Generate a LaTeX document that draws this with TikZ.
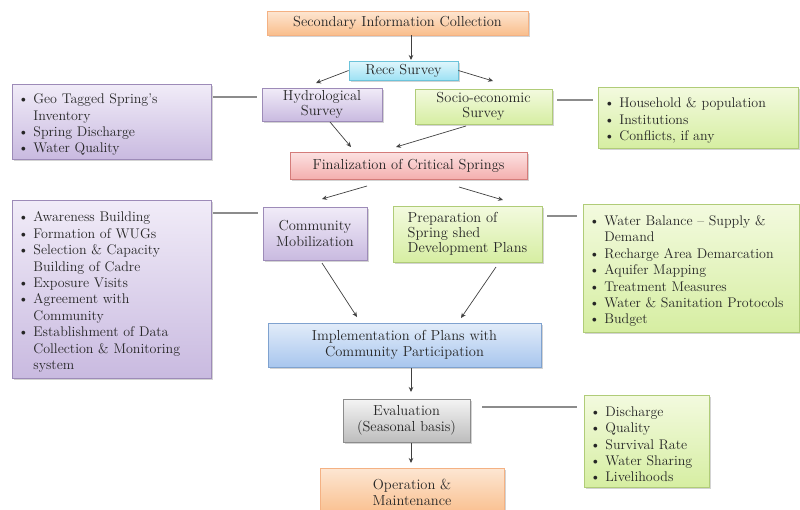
\documentclass[tikz,border=0pt]{standalone}
\usetikzlibrary{shadows,arrows.meta}
\definecolor{oBd}{HTML}{F4B183}\definecolor{oT}{HTML}{FDE6D2}\definecolor{oB}{HTML}{F9BE8C}
\definecolor{cBd}{HTML}{6CC3DA}\definecolor{cT}{HTML}{E0F6FC}\definecolor{cB}{HTML}{9EE2F4}
\definecolor{pBd}{HTML}{9D8BB8}\definecolor{pT}{HTML}{F1ECF8}\definecolor{pB}{HTML}{C9BAE0}
\definecolor{gBd}{HTML}{B0CC78}\definecolor{gT}{HTML}{F3FADF}\definecolor{gB}{HTML}{D6EEA2}
\definecolor{rBd}{HTML}{D47C7A}\definecolor{rT}{HTML}{FCE2E2}\definecolor{rB}{HTML}{F4AFAE}
\definecolor{bBd}{HTML}{7FA2CF}\definecolor{bT}{HTML}{E2ECF9}\definecolor{bB}{HTML}{A8C6EE}
\definecolor{kBd}{HTML}{8C8C8C}\definecolor{kT}{HTML}{F4F4F4}\definecolor{kB}{HTML}{BDBDBD}
\definecolor{txt}{HTML}{262626}
\hyphenpenalty=10000
\exhyphenpenalty=10000
\newcommand\bitem[1]{\par\noindent\hangindent=1.1em\hangafter=1\makebox[1.1em][l]{\textbullet}#1\par}
\tikzset{
  box/.style={draw, line width=0.8pt, inner sep=2pt, align=center, text=txt,
    drop shadow={shadow xshift=1.6pt, shadow yshift=-1.6pt, opacity=0.35},
    font=\fontsize{14.5}{16}\selectfont},
  orangebox/.style={box, draw=oBd, top color=oT, bottom color=oB},
  cyanbox/.style={box, draw=cBd, top color=cT, bottom color=cB},
  purplebox/.style={box, draw=pBd, top color=pT, bottom color=pB},
  greenbox/.style={box, draw=gBd, top color=gT, bottom color=gB},
  redbox/.style={box, draw=rBd, top color=rT, bottom color=rB},
  bluebox/.style={box, draw=bBd, top color=bT, bottom color=bB},
  graybox/.style={box, draw=kBd, top color=kT, bottom color=kB},
  listbox/.style={align=left, inner xsep=6pt, font=\fontsize{14}{16.4}\selectfont},
  conn/.style={draw=black!75, line width=0.7pt, -{Stealth[length=5pt,width=4.5pt]}},
  link/.style={draw=black!45, line width=1.4pt}
}
\begin{document}
\begin{tikzpicture}[x=1pt,y=-1pt]
\useasboundingbox (0,0) rectangle (800,509);
% main flow
\node[orangebox, minimum width=261pt, minimum height=24pt] (sec) at (397.5,23) {Secondary Information Collection};
\node[cyanbox, minimum width=109pt, minimum height=19pt] (rece) at (403.5,70.5) {Rece Survey};
\node[purplebox, minimum width=120pt, minimum height=33pt, font=\fontsize{14.5}{15}\selectfont] (hyd) at (322,104.5) {Hydrological\\Survey};
\node[greenbox, minimum width=137pt, minimum height=35pt, font=\fontsize{14.5}{15}\selectfont] (soc) at (483.5,106.5) {Socio-economic\\Survey};
\node[redbox, minimum width=237pt, minimum height=27pt] (fin) at (408.5,165.5) {Finalization of Critical Springs};
\node[purplebox, minimum width=104pt, minimum height=53pt] (com) at (315,233.5) {Community\\Mobilization};
\node[greenbox, minimum width=149pt, minimum height=56pt, align=left, font=\fontsize{14.5}{15}\selectfont] (prep) at (467.5,234) {Preparation of\\Spring shed\\Development Plans};
\node[bluebox, minimum width=273pt, minimum height=44pt] (imp) at (404.5,345) {Implementation of Plans with\\Community Participation};
\node[graybox, minimum width=127pt, minimum height=43pt] (eva) at (406.5,420.5) {Evaluation\\(Seasonal basis)};
\node[orangebox, minimum width=184pt, minimum height=47pt, anchor=north] (op) at (412,468) {Operation \&\\Maintenance};
% side lists
\node[purplebox, listbox, minimum width=199pt, minimum height=75pt, text width=187pt] (l1) at (111.5,121.5)
 {\bitem{Geo Tagged Spring's\newline Inventory}\bitem{Spring Discharge}\bitem{Water Quality}};
\node[greenbox, listbox, minimum width=200pt, minimum height=61pt, text width=188pt] (r1) at (698,117.5)
 {\bitem{Household \& population}\bitem{Institutions}\bitem{Conflicts, if any}};
\node[purplebox, listbox, minimum width=199pt, minimum height=178pt, text width=187pt] (l2) at (111.5,289)
 {\bitem{Awareness Building}\bitem{Formation of WUGs}\bitem{Selection \& Capacity\newline Building of Cadre}\bitem{Exposure Visits}\bitem{Agreement with\newline Community}\bitem{Establishment of Data\newline Collection \& Monitoring\newline system}};
\node[greenbox, listbox, minimum width=216pt, minimum height=128pt, text width=204pt] (r2) at (691,268)
 {\bitem{Water Balance -- Supply \&\newline Demand}\bitem{Recharge Area Demarcation}\bitem{Aquifer Mapping}\bitem{Treatment Measures}\bitem{Water \& Sanitation Protocols}\bitem{Budget}};
\node[greenbox, listbox, minimum width=125pt, minimum height=92pt, text width=113pt] (r3) at (646.5,441)
 {\bitem{Discharge}\bitem{Quality}\bitem{Survival Rate}\bitem{Water Sharing}\bitem{Livelihoods}};
% arrow end points
\coordinate (s1) at (411,35.4);   \coordinate (e1) at (411,60);
\coordinate (e2) at (316,83);     \coordinate (e3) at (493,81);
\coordinate (s4) at (330,122);    \coordinate (e4) at (351,147);
\coordinate (s5) at (466,126);    \coordinate (e5) at (396,147);
\coordinate (s6) at (367,186);    \coordinate (e6) at (322,199);
\coordinate (s7) at (459,187);    \coordinate (e7) at (503,200);
\coordinate (s8) at (322,263);    \coordinate (e8) at (357,317);
\coordinate (s9) at (496,267);    \coordinate (e9) at (461,318);
\coordinate (s10) at (411,368);   \coordinate (e10) at (411,392);
\coordinate (s11) at (411,443);   \coordinate (e11) at (411,463);
\draw[conn] (s1) -- (e1);
\draw[conn] (rece.west) -- (e2);
\draw[conn] (rece.east) -- (e3);
\draw[conn] (s4) -- (e4);
\draw[conn] (s5) -- (e5);
\draw[conn] (s6) -- (e6);
\draw[conn] (s7) -- (e7);
\draw[conn] (s8) -- (e8);
\draw[conn] (s9) -- (e9);
\draw[conn] (s10) -- (e10);
\draw[conn] (s11) -- (e11);
% side links
\coordinate (k1) at (257,97);  \coordinate (k2) at (557,100);
\coordinate (k3) at (258,213); \coordinate (k4) at (547,216);
\coordinate (k5) at (482,407);
\draw[link] ([xshift=2pt]l1.east |- k1) -- (k1);
\draw[link] (k2) -- ([xshift=-5pt]r1.west |- k2);
\draw[link] ([xshift=2pt]l2.east |- k3) -- (k3);
\draw[link] (k4) -- ([xshift=-6pt]r2.west |- k4);
\draw[link] (k5) -- ([xshift=-7pt]r3.west |- k5);
\end{tikzpicture}
\end{document}
